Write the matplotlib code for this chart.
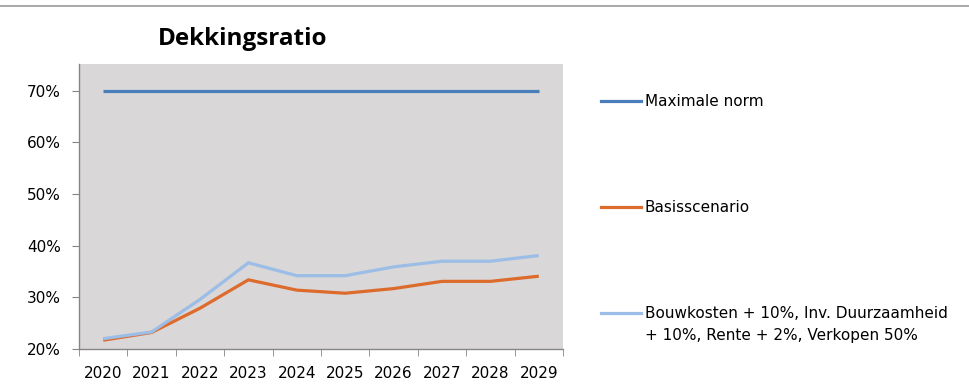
import matplotlib
matplotlib.use("Agg")
import matplotlib.pyplot as plt
from matplotlib.lines import Line2D
from matplotlib.ticker import FuncFormatter, FixedLocator

years = ["2020", "2021", "2022", "2023", "2024", "2025", "2026", "2027", "2028", "2029"]
maximale_norm = [70, 70, 70, 70, 70, 70, 70, 70, 70, 70]
basisscenario = [21.7, 23.2, 27.9, 33.4, 31.4, 30.8, 31.7, 33.1, 33.1, 34.1]
stress = [22.0, 23.3, 29.6, 36.7, 34.2, 34.2, 35.9, 37.0, 37.0, 38.1]
labels = ["Maximale norm", "Basisscenario",
          "Bouwkosten + 10%, Inv. Duurzaamheid\n+ 10%, Rente + 2%, Verkopen 50%"]
colors = ["#4A7EBB", "#DD6B2C", "#9BBDE6"]

plt.rcParams['font.family'] = ['DejaVu Sans']

W, H = 969, 388
fig = plt.figure(figsize=(W / 100, H / 100), dpi=100)
ax = fig.add_axes([79 / W, 1 - 349 / H, (563 - 79) / W, (349 - 64) / H])
ax.set_facecolor("#D9D7D8")

x = list(range(len(years)))
series = [maximale_norm, basisscenario, stress]
for vals, col in zip(series, colors):
    ax.plot(x, vals, color=col, lw=2.3, solid_capstyle="butt")

ax.set_xlim(-0.5, len(years) - 0.5)
ax.set_ylim(20, 75.2)
ax.set_yticks([20, 30, 40, 50, 60, 70])
ax.yaxis.set_major_formatter(FuncFormatter(lambda v, p: f"{int(v)}%"))
ax.set_xticks(x)
ax.set_xticklabels(years)
ax.xaxis.set_minor_locator(FixedLocator([i - 0.5 for i in range(len(years) + 1)]))
ax.tick_params(axis="x", which="major", length=0, pad=12, labelsize=11, colors="#000000")
ax.tick_params(axis="x", which="minor", length=5, color="#868686", direction="out")
ax.tick_params(axis="y", which="major", length=5, color="#868686", pad=8, labelsize=11)
for s in ["top", "right"]:
    ax.spines[s].set_visible(False)
for s in ["left", "bottom"]:
    ax.spines[s].set_color("#868686")
    ax.spines[s].set_linewidth(1)

fig.text(243 / W, 1 - 39 / H, "Dekkingsratio", ha="center", va="center",
         fontsize=17.5, fontweight="bold", family=["Open Sans", "DejaVu Sans"])

# top border line
fig.add_artist(Line2D([0, 1], [1 - 6 / H, 1 - 6 / H], transform=fig.transFigure,
                      color="#9a9a9a", lw=1.2))

# legend
leg_y = [101, 207, 313]
for yy, lab, col in zip(leg_y, labels, colors):
    fig.add_artist(Line2D([601 / W, 641 / W], [1 - yy / H, 1 - yy / H],
                          transform=fig.transFigure, color=col, lw=2.3))
    fig.text(645 / W, 1 - (yy - 7) / H, lab, ha="left", va="top", fontsize=11,
             linespacing=1.62)

fig.savefig("out.png", dpi=100)
